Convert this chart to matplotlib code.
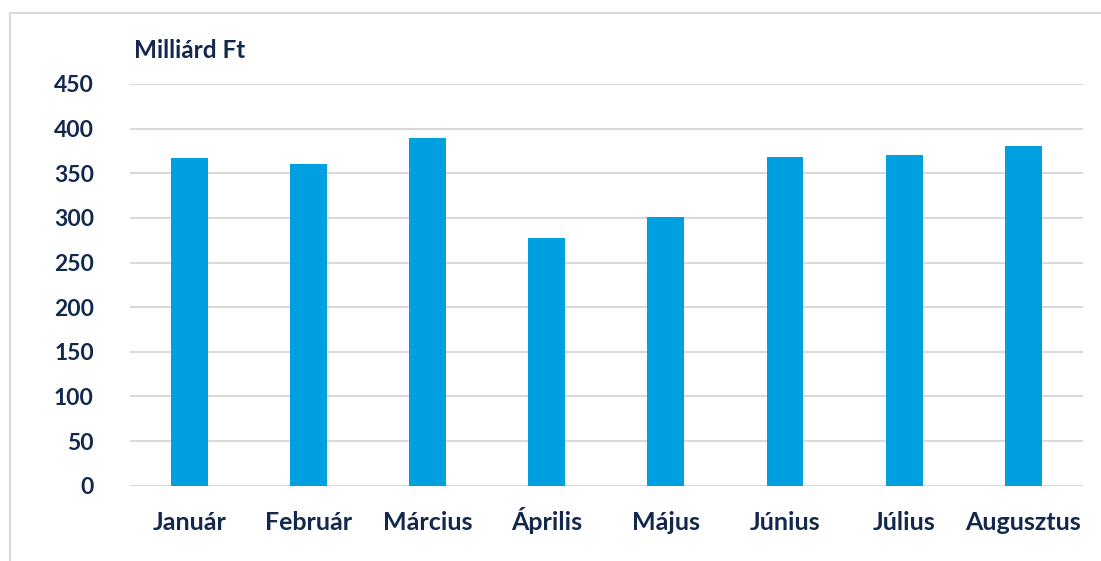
import matplotlib.pyplot as plt
from matplotlib.patches import Rectangle

months = ["Január", "Február", "Március", "Április", "Május", "Június", "Július", "Augusztus"]
values = [367, 360, 389, 277, 301, 368, 370, 381]
yticks = [0, 50, 100, 150, 200, 250, 300, 350, 400, 450]

navy = "#13284d"
plt.rcParams['font.family'] = ['Lato', 'DejaVu Sans']

fig = plt.figure(figsize=(11.01, 5.61), dpi=100)
ax = fig.add_axes([130/1101, 1 - 485.7/561, 952.7/1101, (485.7 - 84)/561])

x = range(len(months))
ax.bar(x, values, width=0.31, color="#009fe0", zorder=3)

ax.set_xlim(-0.5, len(months) - 0.5)
ax.set_ylim(0, 450)
ax.set_yticks(yticks)
ax.set_xticks(list(x))
ax.set_xticklabels(months)
ax.grid(axis='y', color="#d9d9d9", linewidth=1.5, zorder=0)
for s in ax.spines.values():
    s.set_visible(False)
ax.tick_params(length=0, labelcolor=navy)
ax.tick_params(axis='y', pad=26, labelsize=16.5)
ax.tick_params(axis='x', pad=32, labelsize=18)
for lab in ax.get_yticklabels():
    lab.set_fontweight('bold')
for lab in ax.get_xticklabels():
    lab.set_fontweight('bold')
    lab.set_va('baseline')

fig.text(134/1101, 1 - 58/561, "Milliárd Ft", color=navy, fontsize=17.5,
         fontweight='bold', va='baseline', ha='left')

# light frame around the chart
fig.patches.append(Rectangle((10/1101, -0.1), 1.2, 1 - 13/561 + 0.1,
                             transform=fig.transFigure, fill=False,
                             edgecolor="#d9d9d9", linewidth=1.5))

fig.savefig("out.png", dpi=100)
